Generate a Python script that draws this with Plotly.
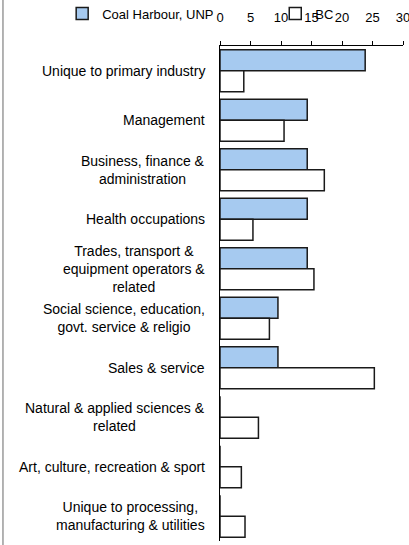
import plotly.graph_objects as go

categories = [
    "Unique to primary industry",
    "Management",
    "Business, finance &<br>administration",
    "Health occupations",
    "Trades, transport &<br>equipment operators &<br>related",
    "Social science, education,<br>govt. service & religio",
    "Sales & service",
    "Natural & applied sciences &<br>related",
    "Art, culture, recreation & sport",
    "Unique to processing,<br>manufacturing & utilities",
]
coal_harbour = [23.8, 14.3, 14.3, 14.3, 14.3, 9.5, 9.5, 0, 0, 0]
bc = [3.9, 10.5, 17.1, 5.4, 15.4, 8.1, 25.3, 6.3, 3.5, 4.1]
x_ticks = [0, 5, 10, 15, 20, 25, 30]

fam = "Liberation Sans, Arial, sans-serif"
cat_font = dict(family=fam, size=14, color="#000000")
small_font = dict(family=fam, size=13, color="#000000")

fig = go.Figure()
fig.add_trace(go.Bar(
    y=categories, x=coal_harbour, orientation="h", name="Coal Harbour, UNP",
    marker=dict(color="#A6CAF0", line=dict(color="#1a1a1a", width=1.5)),
    legend="legend",
))
fig.add_trace(go.Bar(
    y=categories, x=bc, orientation="h", name="BC",
    marker=dict(color="#FFFFFF", line=dict(color="#1a1a1a", width=1.5)),
    legend="legend2",
))

for c in categories:
    fig.add_annotation(
        x=0, xref="paper", y=c, yref="y", text=c, showarrow=False,
        xanchor="right", align="center", xshift=-13, font=cat_font,
    )

fig.add_shape(type="line", xref="paper", yref="paper",
              x0=-1.186, x1=-1.186, y0=-0.02, y1=1.2,
              line=dict(color="#9A9A9A", width=1.5))

fig.update_layout(
    width=409, height=545,
    margin=dict(l=220, r=6, t=46, b=4, autoexpand=False),
    paper_bgcolor="white", plot_bgcolor="white",
    barmode="group", bargap=0.15, bargroupgap=0,
    font=small_font,
    legend=dict(orientation="h", xref="container", yref="container",
                x=0.152, y=0.975, xanchor="left", yanchor="middle",
                font=small_font, itemwidth=30, bgcolor="rgba(0,0,0,0)"),
    legend2=dict(orientation="h", xref="container", yref="container",
                 x=0.673, y=0.975, xanchor="left", yanchor="middle",
                 font=small_font, itemwidth=30, bgcolor="rgba(0,0,0,0)"),
    xaxis=dict(side="top", range=[0, 30], tickvals=x_ticks, ticks="outside",
               ticklen=4, tickcolor="#000", showline=True, linecolor="#000",
               linewidth=1, showgrid=False, zeroline=False,
               ticklabelstandoff=14,
               ticklabeloverflow="allow", tickfont=small_font),
    yaxis=dict(autorange="reversed", showticklabels=False, showline=True,
               linecolor="#000", linewidth=1, showgrid=False, ticks=""),
    showlegend=True,
)

fig.write_html("out.html", config={"displayModeBar": False},
               post_script="document.body.style.margin='0';document.body.style.overflow='hidden';")
